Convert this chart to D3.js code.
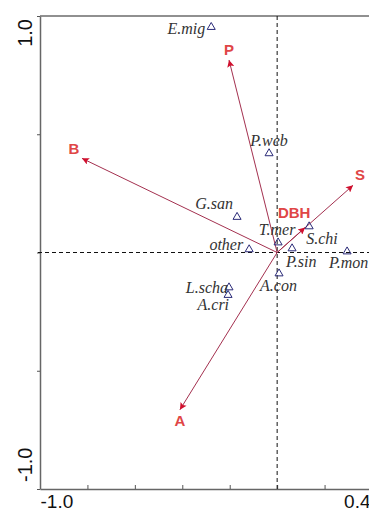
<!DOCTYPE html>
<html><head><meta charset="utf-8">
<script src="https://cdn.jsdelivr.net/npm/d3@7/dist/d3.min.js"></script>
<style>html,body{margin:0;padding:0;background:#fff;overflow:hidden}</style>
</head><body>
<script>
// ---- data ----
const species = ["E.mig","P.web","G.san","T.mer","other","S.chi","P.sin","P.mon","A.con","L.scha","A.cri"];
const speciesX = [-0.278,-0.034,-0.169,0.004,-0.118,0.135,0.063,0.295,0.008,-0.203,-0.207];
const speciesY = [0.953,0.419,0.150,0.042,0.013,0.110,0.017,0.004,-0.089,-0.148,-0.180];
const envVars = ["P","B","S","A","DBH"];
const envX = [-0.203,-0.823,0.320,-0.410,0.118];
const envY = [0.814,0.398,0.284,-0.665,0.106];
const xTicks = [-1.0,-0.8,-0.6,-0.4,-0.2,0.0,0.2,0.4];
const yTicks = [-1.0,-0.5,0.0,0.5,1.0];
const xTickLabels = {"-1":"-1.0","0.4":"0.4"};
const yTickLabels = {"-1":"-1.0","1":"1.0"};

// ---- label placement (layout only) ----
const spLabelPos = {
  "E.mig":[-6,7,"end"], "P.web":[0,-7,"middle"], "G.san":[-4,-8,"end"],
  "T.mer":[-1,-8,"middle"], "other":[-6,1,"end"], "S.chi":[-3,18,"start"],
  "P.sin":[-6,19,"start"], "P.mon":[-18,16,"start"], "A.con":[-19,17,"start"],
  "L.scha":[-1,5,"end"], "A.cri":[1,15,"end"]
};
const envLabelPos = {"P":[0,-5],"B":[-8,-4],"S":[7,-5],"A":[0,16],"DBH":[-11,-9]};

const W=369,H=512;
const svg=d3.select("body").append("svg").attr("width",W).attr("height",H);
const x=d3.scaleLinear().domain([-1,0.4]).range([40,372]);
const y=d3.scaleLinear().domain([-1,1]).range([489,16]);

// frame top line
svg.append("line").attr("x1",x(-1)).attr("x2",x(0.4)).attr("y1",y(1)).attr("y2",y(1))
  .attr("stroke","#222").attr("stroke-width",1.2);

// bottom axis
const gx=svg.append("g").attr("transform",`translate(0,${y(-1)})`)
  .call(d3.axisBottom(x).tickValues(xTicks).tickSize(-4).tickSizeOuter(0).tickPadding(5)
    .tickFormat(d=>xTickLabels[String(+d.toFixed(1))]||""));
gx.select(".domain").attr("stroke","#666").attr("stroke-width",1.5);
gx.selectAll(".tick line").attr("stroke","#555");
gx.selectAll(".tick text").attr("font-family","'Liberation Sans',Arial,sans-serif")
  .attr("font-size",19).attr("fill","#111").attr("dy","0.75em")
  .attr("text-anchor",d=>d<0?"start":"end")
  .attr("dx",d=>d<0?0:-2);

// left axis
const gy=svg.append("g").attr("transform",`translate(${x(-1)},0)`)
  .call(d3.axisLeft(y).tickValues(yTicks).tickSize(3).tickSizeOuter(0).tickFormat(""));
gy.select(".domain").attr("stroke","#666").attr("stroke-width",1.5);
gy.selectAll(".tick line").attr("stroke","#555");
yTicks.filter(v=>yTickLabels[String(v)]).forEach(v=>{
  const top=v>0;
  svg.append("text")
    .attr("transform",`translate(32,${top?y(v)+3:y(v)-7}) rotate(-90)`)
    .attr("text-anchor",top?"end":"start")
    .attr("font-family","'Liberation Sans',Arial,sans-serif").attr("font-size",20).attr("fill","#111")
    .text(yTickLabels[String(v)]);
});

// dashed zero lines
svg.append("line").attr("x1",x(0)).attr("x2",x(0)).attr("y1",y(1)).attr("y2",y(-1))
  .attr("stroke","#111").attr("stroke-dasharray","4,3");
svg.append("line").attr("x1",x(-1)-2).attr("x2",W).attr("y1",y(0)).attr("y2",y(0))
  .attr("stroke","#111").attr("stroke-dasharray","4,3");

// arrow marker
svg.append("defs").append("marker").attr("id","ah")
  .attr("viewBox","0 0 10 10").attr("refX",10).attr("refY",5)
  .attr("markerWidth",10).attr("markerHeight",7).attr("markerUnits","userSpaceOnUse")
  .attr("orient","auto")
  .append("path").attr("d","M0,0 L10,5 L0,10 L2,5 Z").attr("fill","#d0102e");

// env arrows
const env=envVars.map((n,i)=>({n,x:envX[i],y:envY[i]}));
svg.append("g").selectAll("line").data(env).join("line")
  .attr("x1",x(0)).attr("y1",y(0)).attr("x2",d=>x(d.x)).attr("y2",d=>y(d.y))
  .attr("stroke","#a3304f").attr("stroke-width",1).attr("marker-end","url(#ah)");
svg.append("g").selectAll("text").data(env).join("text")
  .attr("x",d=>x(d.x)+envLabelPos[d.n][0]).attr("y",d=>y(d.y)+envLabelPos[d.n][1])
  .attr("text-anchor","middle")
  .attr("font-family","'Liberation Sans',Arial,sans-serif").attr("font-weight","bold")
  .attr("font-size",15).attr("fill","#e04646").text(d=>d.n);

// species
const sp=species.map((n,i)=>({n,x:speciesX[i],y:speciesY[i]}));
const tri=d3.symbol(d3.symbolTriangle,28);
svg.append("g").selectAll("path").data(sp).join("path")
  .attr("d",tri).attr("transform",d=>`translate(${x(d.x)},${y(d.y)})`)
  .attr("fill","none").attr("stroke","#2a2a78").attr("stroke-width",1);
svg.append("g").selectAll("text").data(sp).join("text")
  .attr("x",d=>x(d.x)+spLabelPos[d.n][0]).attr("y",d=>y(d.y)+spLabelPos[d.n][1])
  .attr("text-anchor",d=>spLabelPos[d.n][2])
  .attr("font-family","'Liberation Serif','Times New Roman',serif").attr("font-style","italic")
  .attr("font-size",16).attr("fill","#333").text(d=>d.n);
</script>
</body></html>
